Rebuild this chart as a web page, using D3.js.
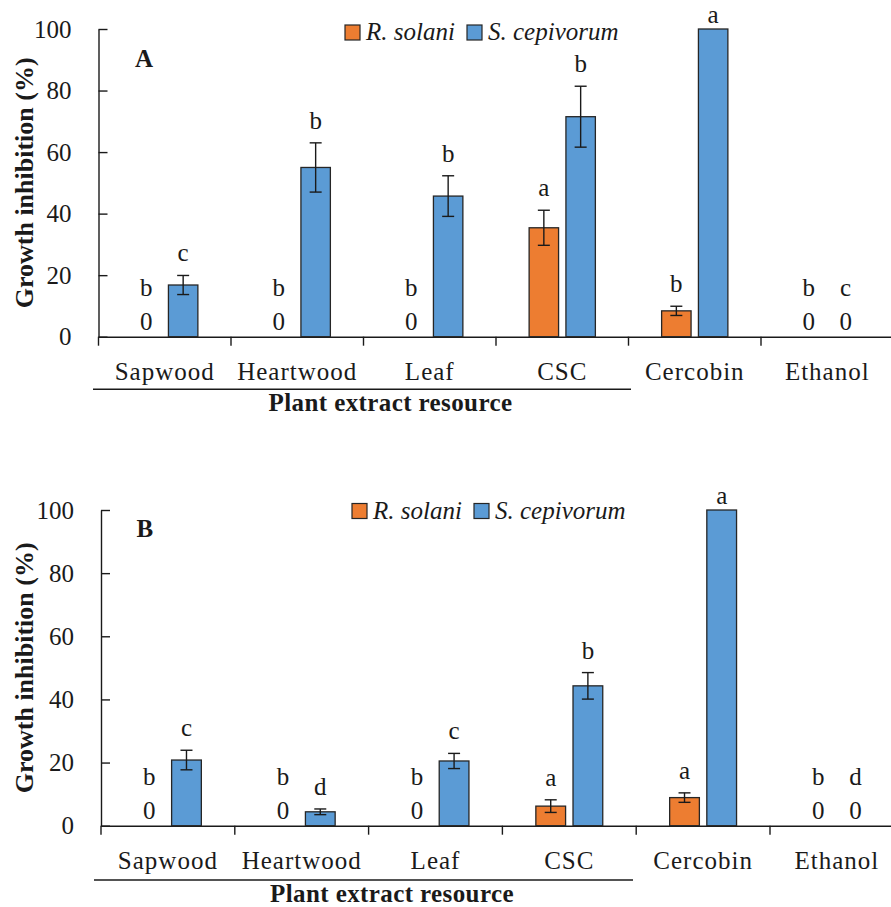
<!DOCTYPE html>
<html>
<head>
<meta charset="utf-8">
<script src="https://cdn.jsdelivr.net/npm/d3@7"></script>
<style>
  body { margin: 0; background: #fff; }
  svg { display: block; font-family: "Liberation Serif", "Times New Roman", serif; }
</style>
</head>
<body>
<div id="chart-area"></div>
<script>
// ---------- DATA ----------
let categories = ["Sapwood", "Heartwood", "Leaf", "CSC", "Cercobin", "Ethanol"];
let series = ["R. solani", "S. cepivorum"];
let yTicks = [0, 20, 40, 60, 80, 100];

// panel A
let solaniA = [0, 0, 0, 35.4, 8.4, 0];
let solaniErrA = [0, 0, 0, 5.7, 1.5, 0];
let cepivorumA = [16.8, 55.0, 45.7, 71.5, 100, 0];
let cepivorumErrA = [3.1, 8.0, 6.6, 9.9, 0, 0];
let solaniLettersA = ["b", "b", "b", "a", "b", "b"];
let cepivorumLettersA = ["c", "b", "b", "b", "a", "c"];

// panel B
let solaniB = [0, 0, 0, 6.2, 8.9, 0];
let solaniErrB = [0, 0, 0, 2.0, 1.5, 0];
let cepivorumB = [20.8, 4.4, 20.5, 44.3, 100, 0];
let cepivorumErrB = [3.1, 0.9, 2.4, 4.2, 0, 0];
let solaniLettersB = ["b", "b", "b", "a", "a", "b"];
let cepivorumLettersB = ["c", "d", "c", "b", "a", "d"];

let colors = ["#ED7D31", "#5B9BD5"];
let ink = "#1a1a1a";
let serif = "Liberation Serif";

let svg = d3.select("#chart-area").append("svg")
  .attr("width", 891)
  .attr("height", 907);

// layout of each panel (the two panels are slightly different in the original)
let panels = [
  { tag: "A", left: 98.5, step: 132.5, top: 29, bottom: 336.7,
    legendX: 345, legendY: 25, tagX: 135, tagY: 66.5, lineY: 389.3, lineX: [93, 631], titleX: 390.5,
    values: [solaniA, cepivorumA], errs: [solaniErrA, cepivorumErrA], letters: [solaniLettersA, cepivorumLettersA] },
  { tag: "B", left: 101, step: 133.8, top: 510, bottom: 825.7,
    legendX: 352, legendY: 503.5, tagX: 136.5, tagY: 536.5, lineY: 880, lineX: [94, 633], titleX: 392,
    values: [solaniB, cepivorumB], errs: [solaniErrB, cepivorumErrB], letters: [solaniLettersB, cepivorumLettersB] }
];

panels.forEach(function(p) {
  let g = svg.append("g");

  //---------SCALES--------------
  let x0 = d3.scaleBand()
    .domain(categories)
    .range([p.left, p.left + p.step * categories.length])
    .padding(0);

  let x1 = d3.scaleBand()
    .domain(series)
    .range([0.25 * p.step, 0.75 * p.step])
    .paddingInner(0.2);

  let y = d3.scaleLinear()
    .domain([0, 100])
    .range([p.bottom, p.top]);

  //-------AXES------------------
  let yAxis = d3.axisLeft(y)
    .tickValues(yTicks)
    .tickSizeInner(-9)
    .tickSizeOuter(0)
    .tickPadding(27);

  let yAxisGroup = g.append("g")
    .attr("transform", "translate(" + p.left + ",0)")
    .attr("font-family", serif)
    .call(yAxis);
  yAxisGroup.attr("font-family", serif);
  yAxisGroup.select(".domain").attr("stroke", ink).attr("stroke-width", 1.4);
  yAxisGroup.selectAll(".tick line").attr("stroke", ink).attr("stroke-width", 1.4);
  yAxisGroup.selectAll(".tick text")
    .attr("font-size", "25px")
    .attr("fill", ink);

  let xAxis = d3.axisBottom(x0)
    .tickSize(0)
    .tickSizeOuter(0);

  let xAxisGroup = g.append("g")
    .attr("transform", "translate(0," + p.bottom + ")")
    .call(xAxis);
  xAxisGroup.attr("font-family", serif);
  xAxisGroup.select(".domain").attr("stroke", ink).attr("stroke-width", 1.4);
  xAxisGroup.selectAll(".tick text")
    .attr("y", 43)
    .attr("dy", 0)
    .attr("font-size", "25px")
    .attr("letter-spacing", "1px")
    .attr("fill", ink);

  // category boundary ticks
  g.selectAll(".cat-tick").data(categories).enter()
    .append("line")
    .attr("class", "cat-tick")
    .attr("x1", d => x0(d)).attr("x2", d => x0(d))
    .attr("y1", p.bottom).attr("y2", p.bottom + 9)
    .attr("stroke", ink).attr("stroke-width", 1.4);

  //------BARS------------------
  series.forEach(function(s, si) {
    let rows = categories.map((c, i) => ({
      cat: c, value: p.values[si][i], err: p.errs[si][i], letter: p.letters[si][i]
    }));
    let cx = d => x0(d.cat) + x1(s) + x1.bandwidth() / 2;

    g.selectAll(".bar-" + si).data(rows.filter(d => d.value > 0)).enter()
      .append("rect")
      .attr("class", "bar-" + si)
      .attr("x", d => x0(d.cat) + x1(s))
      .attr("y", d => y(d.value))
      .attr("width", x1.bandwidth())
      .attr("height", d => y(0) - y(d.value))
      .attr("fill", colors[si])
      .attr("stroke", "#262626")
      .attr("stroke-width", 1.3);

    // error bars
    let eb = g.selectAll(".err-" + si).data(rows.filter(d => d.err > 0)).enter()
      .append("g").attr("class", "err-" + si)
      .attr("stroke", ink).attr("stroke-width", 1.4);
    eb.append("line")
      .attr("x1", cx).attr("x2", cx)
      .attr("y1", d => y(d.value + d.err)).attr("y2", d => y(d.value - d.err));
    eb.append("line")
      .attr("x1", d => cx(d) - 6).attr("x2", d => cx(d) + 6)
      .attr("y1", d => y(d.value + d.err)).attr("y2", d => y(d.value + d.err));
    eb.append("line")
      .attr("x1", d => cx(d) - 6).attr("x2", d => cx(d) + 6)
      .attr("y1", d => y(d.value - d.err)).attr("y2", d => y(d.value - d.err));

    // zero labels
    g.selectAll(".zero-" + si).data(rows.filter(d => d.value === 0)).enter()
      .append("text")
      .attr("class", "zero-" + si)
      .attr("x", cx)
      .attr("y", p.bottom - 7)
      .attr("text-anchor", "middle")
      .attr("font-size", "25px")
      .attr("fill", ink)
      .text("0");

    // significance letters
    g.selectAll(".letter-" + si).data(rows).enter()
      .append("text")
      .attr("class", "letter-" + si)
      .attr("x", cx)
      .attr("y", function(d) {
        if (d.value === 0) return p.bottom - 41;
        if (d.err === 0) return y(d.value) - 6;
        return y(d.value + d.err) - 14;
      })
      .attr("text-anchor", "middle")
      .attr("font-size", "25px")
      .attr("fill", ink)
      .text(d => d.letter);
  });

  //--------LEGEND--------------
  let legendOffsets = [0, 122];
  series.forEach(function(s, si) {
    let row = g.append("g")
      .attr("transform", "translate(" + (p.legendX + legendOffsets[si]) + "," + p.legendY + ")");
    row.append("rect")
      .attr("width", 15).attr("height", 15)
      .attr("fill", colors[si])
      .attr("stroke", "#262626").attr("stroke-width", 1.2);
    row.append("text")
      .attr("x", 21).attr("y", 15)
      .attr("font-size", "25px")
      .attr("font-style", "italic")
      .attr("fill", ink)
      .text(s);
  });

  //------LABELS----------------
  g.append("text")
    .attr("x", p.tagX).attr("y", p.tagY)
    .attr("font-size", "25px")
    .attr("font-weight", "bold")
    .attr("fill", ink)
    .text(p.tag);

  g.append("text")
    .attr("transform", "rotate(-90)")
    .attr("x", -(p.top + p.bottom) / 2)
    .attr("y", 33)
    .attr("text-anchor", "middle")
    .attr("font-size", "26px")
    .attr("font-weight", "bold")
    .attr("fill", ink)
    .text("Growth inhibition (%)");

  g.append("line")
    .attr("x1", p.lineX[0]).attr("x2", p.lineX[1])
    .attr("y1", p.lineY).attr("y2", p.lineY)
    .attr("stroke", ink).attr("stroke-width", 1.4);

  g.append("text")
    .attr("x", p.titleX).attr("y", p.lineY + 22)
    .attr("text-anchor", "middle")
    .attr("font-size", "25px")
    .attr("font-weight", "bold")
    .attr("letter-spacing", "0.4px")
    .attr("fill", ink)
    .text("Plant extract resource");
});
</script>
</body>
</html>
